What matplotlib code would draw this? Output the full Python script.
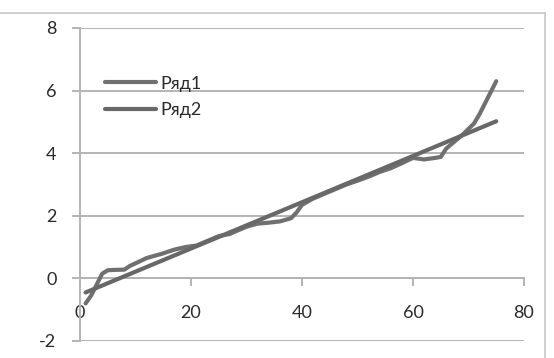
import matplotlib.pyplot as plt
from matplotlib.lines import Line2D

plt.rcParams["font.family"] = ["Lato", "DejaVu Sans"]
plt.rcParams["axes.unicode_minus"] = False

# Ряд1 - noisy data, Ряд2 - straight trend
x1 = [1, 2, 3, 4, 5, 6, 8, 9, 10, 12, 13, 15, 17, 19, 21, 23, 25, 27, 28, 30,
      32, 34, 36, 38, 39, 40, 42, 44, 46, 48, 50, 52, 54, 56, 58, 60, 62, 64,
      65, 66, 67, 69, 71, 72, 73, 74, 75]
y1 = [-0.8, -0.55, -0.2, 0.15, 0.26, 0.27, 0.28, 0.4, 0.48, 0.65, 0.7, 0.8, 0.92,
      1.0, 1.05, 1.2, 1.35, 1.42, 1.5, 1.65, 1.75, 1.78, 1.82, 1.92, 2.1, 2.35,
      2.55, 2.7, 2.85, 3.0, 3.12, 3.25, 3.4, 3.52, 3.68, 3.85, 3.8, 3.85,
      3.88, 4.15, 4.3, 4.6, 4.95, 5.25, 5.6, 5.95, 6.3]
x2 = [1, 75]
y2 = [-0.45, 5.02]

xticks = [0, 20, 40, 60, 80]
yticks = [-2, 0, 2, 4, 6, 8]

line_col = "#707070"
grid_col = "#b4b4b4"
text_col = "#2a2a2a"

fig = plt.figure(figsize=(5.54, 3.58), dpi=100)
ax = fig.add_axes([0.1444, 0.0475, 0.8014, 0.8743])

ax.plot(x1, y1, color=line_col, lw=3, solid_capstyle="round", label="Ряд1", zorder=3)
ax.plot(x2, y2, color="#686868", lw=3, solid_capstyle="round", label="Ряд2", zorder=3)

ax.set_xlim(0, 80)
ax.set_ylim(-2, 8)
ax.set_xticks(xticks)
ax.set_yticks(yticks)
ax.yaxis.grid(True, color=grid_col, lw=1.4)
ax.set_axisbelow(True)

for s in ["top", "right"]:
    ax.spines[s].set_visible(False)
ax.spines["bottom"].set_position(("data", 0))
ax.spines["bottom"].set_color(grid_col)
ax.spines["bottom"].set_linewidth(1.4)
ax.spines["left"].set_color(grid_col)
ax.spines["left"].set_linewidth(1.4)

ax.tick_params(axis="x", direction="out", length=6, width=1.4, color=grid_col,
               pad=13, labelsize=13, labelcolor=text_col)
ax.tick_params(axis="y", direction="out", length=6, width=1.4, color=grid_col,
               pad=11, labelsize=13, labelcolor=text_col)

leg = ax.legend(loc="upper left", bbox_to_anchor=(0.02, 0.9), frameon=False,
                handlelength=2.8, handletextpad=0.25, labelspacing=0.58,
                fontsize=13)
for t in leg.get_texts():
    t.set_color(text_col)

# outer chart frame (top and right edges)
fig.add_artist(Line2D([0, 545 / 554], [1 - 13 / 358] * 2, color="#c8c8c8", lw=1.2))
fig.add_artist(Line2D([545 / 554] * 2, [1 - 13 / 358, 0], color="#c8c8c8", lw=1.2))

fig.savefig("out.png", dpi=100)
